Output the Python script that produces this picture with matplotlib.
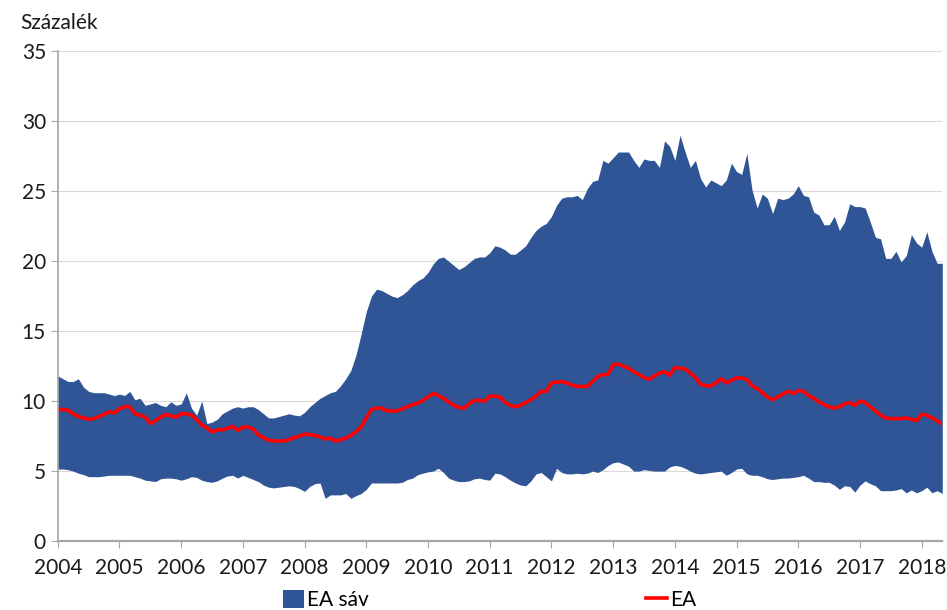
import numpy as np
import matplotlib.pyplot as plt
from matplotlib.patches import Patch
from matplotlib.lines import Line2D

plt.rcParams['font.family'] = ['Lato', 'DejaVu Sans']

# monthly data, Jan 2004 - May 2018
upper = [
    11.8, 11.6, 11.4, 11.4, 11.6, 11.0, 10.7, 10.6, 10.6, 10.6, 10.5, 10.4,
    10.5, 10.4, 10.7, 10.1, 10.2, 9.7, 9.8, 9.9, 9.7, 9.6, 9.95, 9.7,
    9.8, 10.6, 9.5, 9.0, 10.0, 8.4, 8.5, 8.7, 9.1, 9.3, 9.5, 9.6,
    9.5, 9.6, 9.6, 9.4, 9.1, 8.8, 8.8, 8.9, 9.0, 9.1, 9.0, 8.95,
    9.2, 9.6, 9.9, 10.2, 10.4, 10.6, 10.7, 11.1, 11.6, 12.2, 13.3, 14.8,
    16.4, 17.5, 18.0, 17.9, 17.7, 17.5, 17.4, 17.6, 17.9, 18.3, 18.6, 18.8,
    19.2, 19.8, 20.2, 20.3, 20.0, 19.7, 19.4, 19.6, 19.9, 20.2, 20.3, 20.3,
    20.6, 21.1, 21.0, 20.8, 20.5, 20.5, 20.8, 21.1, 21.7, 22.2, 22.5, 22.7,
    23.2, 24.0, 24.5, 24.6, 24.6, 24.7, 24.4, 25.2, 25.7, 25.8, 27.2, 27.0,
    27.4, 27.8, 27.8, 27.8, 27.2, 26.7, 27.3, 27.2, 27.2, 26.7, 28.6, 28.2,
    27.2, 29.0, 27.8, 26.7, 27.2, 25.9, 25.3, 25.8, 25.6, 25.4, 25.8, 27.0,
    26.4, 26.2, 27.7, 25.1, 23.8, 24.8, 24.5, 23.4, 24.5, 24.4, 24.5, 24.8,
    25.4, 24.7, 24.6, 23.5, 23.3, 22.6, 22.6, 23.2, 22.2, 22.8, 24.1, 23.9,
    23.9, 23.8, 22.8, 21.7, 21.6, 20.2, 20.2, 20.7, 19.95, 20.4, 21.9, 21.3,
    21.0, 22.1, 20.7, 19.85, 19.85,
]
lower = [
    5.15, 5.15, 5.1, 5.0, 4.85, 4.75, 4.6, 4.6, 4.6, 4.65, 4.7, 4.7,
    4.7, 4.7, 4.7, 4.6, 4.5, 4.35, 4.3, 4.25, 4.45, 4.5, 4.5, 4.45,
    4.35, 4.45, 4.6, 4.55, 4.35, 4.25, 4.2, 4.3, 4.5, 4.65, 4.7, 4.5,
    4.7, 4.55, 4.4, 4.25, 4.0, 3.85, 3.8, 3.85, 3.9, 3.95, 3.9, 3.75,
    3.55, 3.9, 4.1, 4.15, 3.05, 3.3, 3.3, 3.3, 3.4, 3.05, 3.25, 3.4,
    3.7, 4.15, 4.15, 4.15, 4.15, 4.15, 4.15, 4.2, 4.4, 4.5, 4.75, 4.85,
    4.95, 5.0, 5.2, 4.9, 4.5, 4.35, 4.25, 4.25, 4.3, 4.45, 4.5, 4.4,
    4.35, 4.85, 4.8, 4.6, 4.35, 4.15, 4.0, 3.95, 4.3, 4.8, 4.9, 4.6,
    4.3, 5.2, 4.9, 4.8, 4.8, 4.85, 4.8, 4.85, 5.0, 4.9, 5.1, 5.4,
    5.6, 5.65, 5.5, 5.35, 5.0, 5.0, 5.1, 5.05, 5.0, 5.0, 5.0, 5.3,
    5.4, 5.35, 5.2, 5.0, 4.85, 4.8, 4.85, 4.9, 4.95, 5.0, 4.7, 4.9,
    5.15, 5.2, 4.8, 4.7, 4.7, 4.6, 4.45, 4.4, 4.45, 4.5, 4.5, 4.55,
    4.6, 4.7, 4.5, 4.25, 4.25, 4.2, 4.2, 4.0, 3.7, 3.95, 3.9, 3.5,
    4.0, 4.3, 4.1, 3.95, 3.6, 3.6, 3.6, 3.65, 3.75, 3.45, 3.65, 3.45,
    3.6, 3.85, 3.45, 3.6, 3.4,
]
ea = [
    9.4, 9.4, 9.35, 9.1, 8.9, 8.8, 8.7, 8.75, 8.9, 9.05, 9.25, 9.15,
    9.45, 9.6, 9.6, 9.1, 9.0, 8.85, 8.4, 8.6, 8.85, 9.05, 8.95, 8.85,
    9.1, 9.1, 9.0, 8.7, 8.3, 8.1, 7.8, 7.95, 7.95, 8.05, 8.2, 7.9,
    8.15, 8.15, 8.0, 7.6, 7.4, 7.2, 7.15, 7.15, 7.15, 7.25, 7.4, 7.5,
    7.65, 7.6, 7.55, 7.45, 7.3, 7.35, 7.15, 7.25, 7.35, 7.55, 7.8, 8.15,
    8.8, 9.4, 9.5, 9.5, 9.3, 9.3, 9.3, 9.45, 9.6, 9.75, 9.85, 10.05,
    10.3, 10.55, 10.4, 10.2, 9.95, 9.7, 9.55, 9.5, 9.8, 10.05, 10.05, 10.0,
    10.35, 10.35, 10.3, 9.9, 9.7, 9.6, 9.7, 9.9, 10.1, 10.35, 10.7, 10.7,
    11.3, 11.35, 11.4, 11.3, 11.15, 11.05, 11.05, 11.05, 11.4, 11.75, 11.9, 11.9,
    12.6, 12.65, 12.5, 12.35, 12.1, 11.9, 11.7, 11.55, 11.8, 12.0, 12.1, 11.85,
    12.4, 12.35, 12.3, 12.0, 11.7, 11.2, 11.1, 11.1, 11.3, 11.6, 11.3, 11.5,
    11.65, 11.65, 11.55, 11.1, 10.9, 10.6, 10.3, 10.1, 10.3, 10.5, 10.7, 10.55,
    10.75, 10.7, 10.4, 10.2, 9.95, 9.75, 9.6, 9.5, 9.6, 9.8, 9.9, 9.7,
    10.0, 9.9, 9.6, 9.3, 9.0, 8.8, 8.75, 8.75, 8.75, 8.8, 8.7, 8.6,
    9.05, 9.0, 8.8, 8.6, 8.35,
]
years = list(range(2004, 2019))

t = 2004 + np.arange(len(ea)) / 12

fig = plt.figure(figsize=(9.47, 6.10), dpi=100)
ax = fig.add_axes([0.061, 0.113, 0.934, 0.803])

ax.fill_between(t, lower, upper, color='#2F5597', linewidth=0)
ax.plot(t, ea, color='#FF0000', linewidth=2.6)

ax.set_xlim(2004, t[-1])
ax.set_ylim(0, 35)
ax.set_yticks(range(0, 36, 5))
ax.set_xticks(years)
ax.set_xticklabels([str(y) for y in years])
ax.grid(axis='y', color='#D9D9D9', linewidth=0.8)
ax.set_axisbelow(True)

for s in ['top', 'right']:
    ax.spines[s].set_visible(False)
ax.spines['left'].set_color('#A6A6A6')
ax.spines['bottom'].set_color('#A6A6A6')
ax.spines['left'].set_linewidth(1.2)
ax.spines['bottom'].set_linewidth(1.6)
ax.tick_params(axis='both', colors='#A6A6A6', labelcolor='#1A1A1A', labelsize=15, length=5)
ax.tick_params(axis='x', pad=7)

fig.text(0.021, 0.962, 'Százalék', fontsize=15, color='#1A1A1A', va='center')

handles = [Patch(facecolor='#2F5597', edgecolor='none'),
           Line2D([0], [0], color='#FF0000', linewidth=2.6)]
fig.legend(handles, ['EA sáv', 'EA'], loc='center', bbox_to_anchor=(0.517, 0.016),
           ncol=2, frameon=False, fontsize=15, columnspacing=13.3, handlelength=1.0,
           handleheight=0.9, handletextpad=0.15)

fig.savefig('out.png', dpi=100)
